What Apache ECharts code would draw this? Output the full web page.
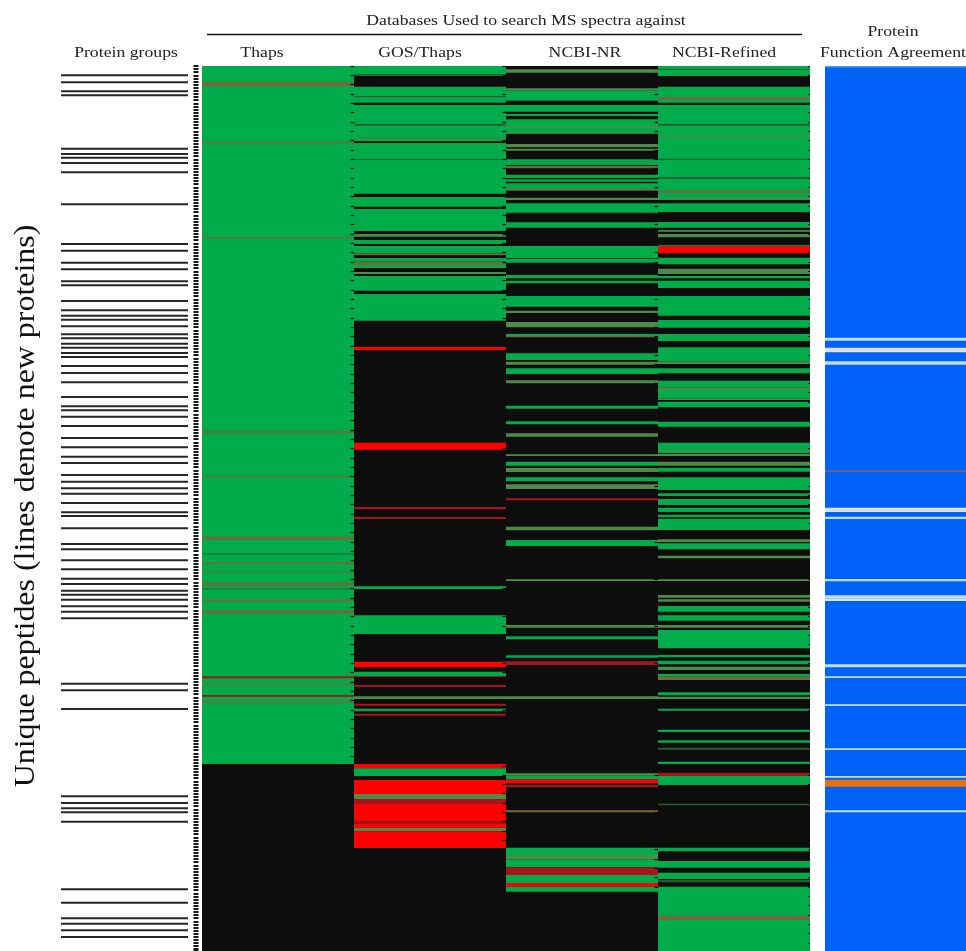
<!DOCTYPE html>
<html><head><meta charset="utf-8">
<style>html,body{margin:0;padding:0;background:#fff}#c{width:966px;height:951px}</style>
<script src="https://cdn.jsdelivr.net/npm/echarts@6/dist/echarts.min.js"></script>
</head><body><div id="c"></div>
<script>
const databases = ['Thaps','GOS/Thaps','NCBI-NR','NCBI-Refined'];
const stateColors = ['#00ac4a','#0d0d0d','#ff0000','#4f8a48','#77683c','#a8141c','#2c5a34','#0061f7','#bfdcf5','#dfe0da','#e87010','#a0603c','#3c9cf5'];
const [G,K,R,O,B,D,V,BL,P,GR,OR,RU,SK] = stateColors.map((_, i) => i);
const rowSpan = 885;

const proteinLines = [9.3,16.3,25.3,29.3,82.7,88,91.7,97,106.3,138.3,178,184.7,196.7,203.3,215.3,219.3,235,244.3,249.7,253.7,260.3,268.3,272.3,277.7,281.7,287,291,
300,307,316.3,331,340.3,344.3,350.7,360,372,381.3,390.7,397,409,415.7,422.3,427.7,437,446.3,450,462.3,478,483.3,494.3,503.3,512.7,518,524.7,528.7,533.7,540.3,545.7,552.3,
617.7,624.3,643,730.3,737,742.3,746.3,755.7,823.3,836.7,852.3,857.7,864.3,871];

const thapsBands = [[0,698,G],[698,885,K],[16,20,B],[75.7,77.5,B],[171,172.5,B],[365,367,B],[409.7,411,B],[470.8,473.8,B],[487.5,488.5,V],[496.3,498.3,B],[505.5,506.5,B],[516.5,519.5,B],[522.5,523.5,V],[533.3,535.3,B],[544.2,547.2,B],[610.3,612.3,D],[617.3,618.8,B],[629,631,D],[635.3,637.3,B]];

const gosBands = [[0,885,K],[0,10,G],[8,9.7,V],[20.7,36.7,G],[30,31.3,V],[39,127.7,G],[58,59.7,V],[71.5,72.5,B],[75.3,77.3,K],[77.3,78.3,O],[93,94,V],[131,140.7,G],[143,165,G],[168,170.5,O],[170.5,171,G],[174,178,G],[180,187.3,G],[187.3,189.3,B],[192,195.7,G],[195.7,199,B],[199,202,G],[206,208,O],[210,224.7,G],[228,254.7,G],
[281,284,R],[376.7,383.7,R],[441,443.3,D],[451,453,D],[520.3,523,G],[549.3,568,G],
[595.7,601.3,R],[605.7,610,G],[610,611,D],[619,621,D],[630.3,633,O],[637.7,639.7,D],[642.7,645.3,G],[647.7,649.7,D],
[698,702.3,R],[702.3,710,G],[714,728,R],[728,733,O],[733,738,D],[738,755.3,R],[755.3,757.7,D],[757.7,761.7,R],[761.7,765.3,O],[765.3,782,R]];

const nrBands = [[0,885,K],[3.3,6.7,O],[22.3,24.7,O],[24.7,34.7,G],[39,45.7,G],[48,50,G],[53.3,60,G],[60,62,O],[62,66,G],[66,67.3,O],[67.3,68,G],[78,81.3,O],[82.7,84.7,O],[93.3,99,G],[99.7,102.3,B],[108.7,112,G],[113.3,115.7,G],[117.3,123,G],[123,124.7,B],[131.7,134,O],[137.3,146.5,G],[146.5,147.3,O],[156.3,161.7,G],[180,192.3,G],[193,196.7,G],[209,212.3,G],[214.7,217.3,G],[230,240.7,G],[244.7,247,O],[256,261.3,O],[268,270,G],[270,271.3,B],[287.3,294,G],
[295.7,298.7,O],[302.3,308,G],[314.3,317.3,O],[339.7,342.7,G],[355.3,358.3,G],[367.3,370.7,O],[388.3,390,O],[395.7,399.7,G],[402,406,O],[411.3,415.3,G],[418.3,423,O],[432.3,434.3,D],[460.7,464.3,O],[474,480,G],[513.3,515,O],[559,561.7,O],[570.3,573.3,G],[589.3,591.7,G],
[595.3,599,D],[630.3,633,O],[707.3,709.3,O],[709.3,713.3,G],[713.3,717.3,R],[719,721.3,D],[744.3,746.3,B],[781.7,789,G],[789,793.3,O],[793.3,801.3,G],[801.3,809,D],[809,817,G],[817,820.7,R],[820.7,825.7,G]];

const refinedBands = [[0,885,K],[0,10,G],[3,4,V],[20.7,36.7,G],[31.3,34,B],[39,134,G],[58,59.7,V],[69,70.7,O],[92.7,94,V],[111,112.7,V],[124.3,126.7,B],[131.3,132.7,O],[137.3,146,G],[156,161.7,G],[164,165.7,O],[168,171.3,O],[179.3,180,G],[180,187.3,R],[191.7,198.3,G],[202.7,208,O],[210,212.3,G],[214.7,222,G],[230,249.7,G],[254,261.7,G],[268,275,G],[281.3,295.7,G],
[295.7,298,O],[302.3,307.3,G],[314.7,321.3,G],[321.3,324,O],[324,332.3,G],[332.3,334,O],[335.7,341.3,G],[355.7,360.7,G],[376.7,387.3,G],[383.5,385,O],[388,390,O],[395.7,399.7,O],[401.7,405.7,G],[411.3,424,G],[427.3,430,G],[433,439,G],[441.7,446,G],[448.7,451.3,G],[452.7,464,G],[473.3,476,O],[477.3,483.3,G],[489.7,492.3,O],[513.3,515,O],[529,531.7,O],[533.3,535.7,O],[540,545.7,G],[549.3,554.7,G],[559,561.7,O],[564,582.3,G],[589,591.3,G],
[594.7,598.3,G],[600.7,604,O],[608,610.7,G],[610.7,614,B],[626.3,629.3,G],[630.7,633,O],[642.7,644.7,G],[663.7,666,G],[674.3,676.7,G],[681.7,683.7,V],[695.7,698,G],[706.7,710,D],[710,719,G],[737.7,739.3,V],[781.7,785.3,G],[795,801.7,G],[806.7,813,G],[814,816.3,V],[820.7,885,G],[849.7,854,B]];

const functionBands = [[0,885,BL],[0,1.5,SK],[271.7,274.7,P],[281.7,286.3,GR],[295.3,298.7,P],[404.3,405.7,RU],[441.7,446,GR],[450.7,453,P],[513,515.3,P],[529.3,532.7,P],[532.7,535,GR],[598.3,601.3,P],[610.3,612,P],[638.3,640,P],[682.3,684,P],[710,711.7,P],[713.7,720.7,OR],[744.3,746.3,P]];

const headerTexts = [
  {t:'Databases Used to search MS spectra against',x:526,y:21},
  {t:'Protein groups',x:126,y:53},
  {t:'Thaps',x:262,y:53},{t:'GOS/Thaps',x:420,y:53},{t:'NCBI-NR',x:585,y:53},{t:'NCBI-Refined',x:724,y:53},
  {t:'Protein',x:893,y:32},{t:'Function Agreement',x:893,y:53}
];

const rowTick = 3.11, groupTick = 9.33;
function bandItem(params, api){
  const c = api.value(0), a = api.coord([c, api.value(1)]), b = api.coord([c, api.value(2)]);
  const w = api.size([1,0])[0];
  return {type:'rect',shape:{x:a[0]-w/2,y:a[1],width:w,height:b[1]-a[1]},style:{fill:stateColors[api.value(3)]}};
}
function lineItem(params, api){
  const a = api.coord([0, api.value(0)]), w = api.size([1,0])[0];
  return {type:'line',shape:{x1:a[0]-w/2,y1:a[1],x2:a[0]+w/2,y2:a[1]},style:{stroke:'#262626',lineWidth:2}};
}
const hiddenCat = (gridIndex,data)=>({type:'category',gridIndex,data,axisLine:{show:false},axisTick:{show:false},axisLabel:{show:false}});
const rowAxis = (gridIndex,extra={})=>Object.assign({type:'value',gridIndex,position:'left',min:0,max:rowSpan,inverse:true,splitLine:{show:false},axisLine:{show:false},axisLabel:{show:false},axisTick:{show:false}},extra);
const tickAxis = (offset,length,interval,width,color='#0a0a0a')=>rowAxis(0,{z:6,offset,interval,axisTick:{show:true,length,lineStyle:{color,width}}});

const heatSeries = [thapsBands,gosBands,nrBands,refinedBands].map((bands,i)=>({
  type:'custom',name:databases[i],xAxisIndex:0,yAxisIndex:0,animation:false,silent:true,clip:true,
  renderItem:bandItem,encode:{x:0,y:[1,2]},data:bands.map(b=>[i,b[0],b[1],b[2]])
}));

const chart = echarts.init(document.getElementById('c'),null,{renderer:'canvas'});
chart.setOption({
  animation:false,backgroundColor:'#fff',
  grid:[
    {left:202,top:66,width:608,height:885},
    {left:825,top:66,width:141,height:885},
    {left:61,top:66,width:127,height:885}
  ],
  xAxis:[hiddenCat(0,databases),hiddenCat(1,['Protein Function Agreement']),hiddenCat(2,['Protein groups'])],
  yAxis:[rowAxis(0),rowAxis(1),rowAxis(2),
    tickAxis(3.5,5,rowTick,1.9),
    tickAxis(-152,3.5,groupTick,1.2),
    tickAxis(-304,3.5,groupTick,1.2),
    tickAxis(-456,3.5,groupTick,1.2),
    tickAxis(-608,2,groupTick,1.2)
  ],
  series:[...heatSeries,
    {type:'custom',name:'Protein Function Agreement',xAxisIndex:1,yAxisIndex:1,silent:true,renderItem:bandItem,encode:{x:0,y:[1,2]},data:functionBands.map(b=>[0,b[0],b[1],b[2]])},
    {type:'custom',name:'Protein groups',xAxisIndex:2,yAxisIndex:2,silent:true,renderItem:lineItem,encode:{x:1,y:0},data:proteinLines.map(v=>[v,0])}
  ],
  graphic:[
    {type:'line',shape:{x1:207,y1:34.5,x2:802,y2:34.5},style:{stroke:'#111',lineWidth:1.5}},
    {type:'text',x:26,y:506,rotation:Math.PI/2,scaleX:1.1,style:{text:'Unique peptides (lines denote new proteins)',font:'29px "Liberation Serif"',fill:'#111',align:'center',verticalAlign:'middle'}},
    ...headerTexts.map(h=>({type:'text',x:h.x,y:h.y,scaleX:1.18,style:{text:h.t,font:'15px "Liberation Serif"',fill:'#222',align:'center',verticalAlign:'middle'}}))
  ]
});
</script></body></html>
